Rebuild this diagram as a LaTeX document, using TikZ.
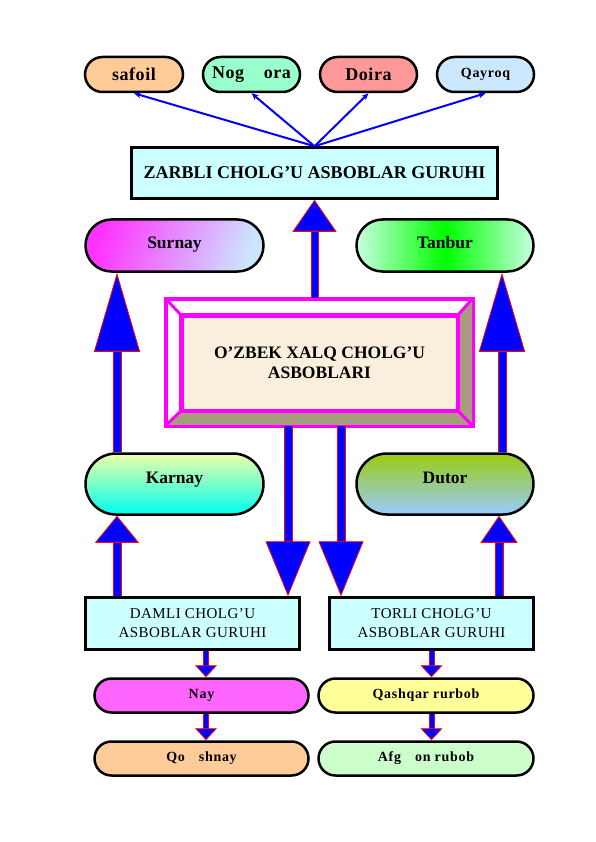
\documentclass[tikz,border=0pt]{standalone}
\usepackage{fontspec}
\setmainfont{Liberation Serif}
\newfontfamily\spacedfont[LetterSpace=5]{Liberation Serif}
\newfontfamily\loosefont[LetterSpace=3]{Liberation Serif}
\usetikzlibrary{shapes.misc,arrows.meta,calc}

\definecolor{peach}{HTML}{FFCC99}
\definecolor{mint}{HTML}{99FFCC}
\definecolor{rose}{HTML}{FF9999}
\definecolor{skyb}{HTML}{CCE8FF}
\definecolor{paleCyan}{HTML}{CCFFFF}
\definecolor{beige}{HTML}{F9EFDC}
\definecolor{bevel}{HTML}{A89C80}
\definecolor{lilac}{HTML}{CCE5FF}
\definecolor{fuchsia}{HTML}{FF33FF}
\definecolor{mintedge}{HTML}{C8FFE0}
\definecolor{vivid}{HTML}{00FF00}
\definecolor{lemon}{HTML}{EEFFAA}
\definecolor{aqua}{HTML}{00FFEE}
\definecolor{olive}{HTML}{99CC11}
\definecolor{babyblue}{HTML}{99CCFF}
\definecolor{pinkish}{HTML}{FF66FF}
\definecolor{paleyellow}{HTML}{FFFF99}
\definecolor{palegreen}{HTML}{CCFFCC}
\definecolor{mag}{RGB}{255,0,255}

\begin{document}
\begin{tikzpicture}[x=1pt,y=-1pt,
	pill/.style={rounded rectangle, draw=black, line width=2.5pt, inner sep=0pt},
	grp/.style={draw=black, line width=2.5pt, fill=paleCyan, inner sep=0pt, align=center},
	thin/.style={blue, line width=2pt, -{Stealth[length=7pt,width=6pt]}},
	fat/.style n args={3}{blue, line width=#3,
		-{Triangle[length=#1,width=#2,fill=blue,color=red,line width=0.8pt]},
		preaction={draw=red, line width=#3+2pt, -, shorten >=#1-1pt}},
	big/.style={font=\bfseries\fontsize{17.5}{20}\selectfont},
	tag/.style={font=\loosefont\bfseries\fontsize{18}{20}\selectfont},
	small/.style={font=\spacedfont\bfseries\fontsize{14}{16}\selectfont}]
	\useasboundingbox (0,0) rectangle (595,842);
	% zarbli group
	\node[pill, fill=peach, minimum width=98pt, minimum height=35pt, tag] (safoil) at (134,74.5) {safoil};
	\node[pill, fill=mint, minimum width=97pt, minimum height=35pt, tag] (nogora) at (251.5,74.5) {Nog\hspace{1.1em}ora};
	\node[pill, fill=rose, minimum width=97pt, minimum height=35pt, tag] (doira) at (368.5,74.5) {Doira};
	\node[pill, fill=skyb, minimum width=97pt, minimum height=35pt, small] (qayroq) at (485.5,74.5) {Qayroq};
	\node[grp, minimum width=366pt, minimum height=51pt, font=\bfseries\fontsize{18}{20}\selectfont] (zarbli) at (314.5,173) {ZARBLI CHOLG’U ASBOBLAR GURUHI};
	\foreach \n in {safoil,nogora,doira,qayroq}
		\draw[thin] (zarbli.north) -- (\n.south);
	% upper pills
	\node[pill, minimum width=178pt, minimum height=52pt, big, left color=fuchsia, right color=lilac, shading angle=70] (surnay) at (174.5,245.5) {\raisebox{6pt}{Surnay}};
	\node[pill, minimum width=177pt, minimum height=52pt, big, left color=mintedge, right color=mintedge, middle color=vivid] (tanbur) at (445,245.5) {\raisebox{6pt}{Tanbur}};
	% main box
	\node[draw=mag, line width=3pt, fill=white, minimum width=305pt, minimum height=125pt] (frame) at (319,362) {};
	\node[draw=mag, line width=3pt, fill=beige, minimum width=275pt, minimum height=94pt, align=center, big] (main) at (319.5,363) {O’ZBEK XALQ CHOLG’U\\ASBOBLARI};
	\fill[bevel] (frame.north east) -- (frame.south east) -- (frame.south west) -- (main.south west) -- (main.south east) -- (main.north east) -- cycle;
	\draw[mag, line width=3pt] (frame.north west) rectangle (frame.south east) (main.north west) rectangle (main.south east);
	\foreach \c in {north west,north east,south west,south east}
		\draw[mag, line width=3pt] (frame.\c) -- (main.\c);
	% lower pills
	\node[pill, minimum width=178pt, minimum height=61pt, big, top color=lemon, bottom color=aqua] (karnay) at (174.5,484) {\raisebox{12pt}{Karnay}};
	\node[pill, minimum width=177pt, minimum height=61pt, big, top color=olive, bottom color=babyblue] (dutor) at (445,484) {\raisebox{12pt}{Dutor}};
	\node[grp, minimum width=214pt, minimum height=52pt, font=\loosefont\fontsize{15}{19}\selectfont] (damli) at (192.5,623.5) {DAMLI CHOLG’U\\ASBOBLAR GURUHI};
	\node[grp, minimum width=204pt, minimum height=52pt, font=\loosefont\fontsize{15}{19}\selectfont] (torli) at (431.5,623.5) {TORLI CHOLG’U\\ASBOBLAR GURUHI};
	\node[pill, fill=pinkish, minimum width=214pt, minimum height=34pt, small] (nay) at (201.5,695.5) {Nay};
	\node[pill, fill=paleyellow, minimum width=215pt, minimum height=34pt, small] (qashqar) at (426,695.5) {Qashqar rurbob};
	\node[pill, fill=peach, minimum width=214pt, minimum height=34pt, small] (qoshnay) at (201.5,758.5) {Qo\hspace{1em}shnay};
	\node[pill, fill=palegreen, minimum width=215pt, minimum height=34pt, small] (afgon) at (426,758.5) {Afg\hspace{1em}on rubob};
	% block arrows
	\coordinate (lx) at (117,0);
	\coordinate (rx) at (502,0);
	\coordinate (rlx) at (499,0);
	\coordinate (dx) at (288,0);
	\coordinate (tx) at (341,0);
	\coordinate (sx) at (206,0);
	\draw[fat={32pt}{44pt}{6pt}] (zarbli.south |- frame.north) -- (zarbli.south);
	\draw[fat={79pt}{46pt}{7pt}] (lx |- karnay.north) -- (lx |- surnay.south);
	\draw[fat={79pt}{46pt}{7pt}] (rx |- dutor.north) -- (rx |- tanbur.south);
	\draw[fat={55pt}{45pt}{7pt}] (dx |- frame.south) -- (dx |- damli.north);
	\draw[fat={55pt}{45pt}{7pt}] (tx |- frame.south) -- (tx |- torli.north);
	\draw[fat={27pt}{44pt}{7pt}] (lx |- damli.north) -- (lx |- karnay.south);
	\draw[fat={27pt}{37pt}{7pt}] (rlx |- torli.north) -- (rlx |- dutor.south);
	\draw[fat={12pt}{22pt}{4pt}] (sx |- damli.south) -- (sx |- nay.north);
	\draw[fat={12pt}{22pt}{4pt}] (sx |- nay.south) -- (sx |- qoshnay.north);
	\draw[fat={12pt}{22pt}{4pt}] (torli.south) -- (torli.south |- qashqar.north);
	\draw[fat={12pt}{22pt}{4pt}] (torli.south |- qashqar.south) -- (torli.south |- afgon.north);
\end{tikzpicture}
\end{document}
